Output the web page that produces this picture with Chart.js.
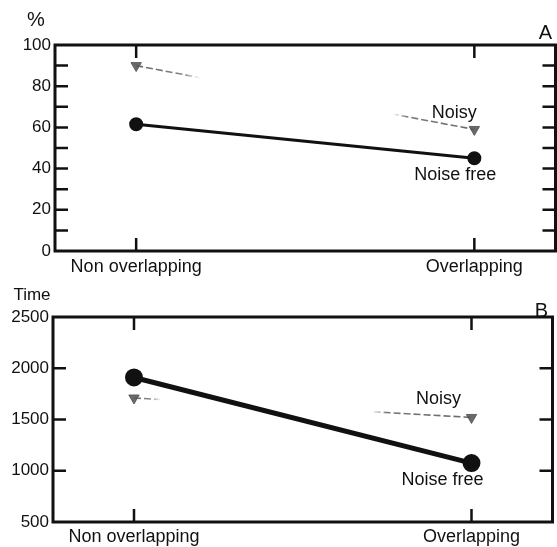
<!DOCTYPE html>
<html>
<head>
<meta charset="utf-8">
<script src="https://cdn.jsdelivr.net/npm/chart.js@4/dist/chart.umd.min.js"></script>
<style>
html, body { margin: 0; padding: 0; background: #fff; overflow: hidden; }
#wrap { position: relative; width: 557px; height: 547px; overflow: hidden; }
.panel { position: absolute; left: 0; width: 564px; }
#boxA { top: 0; height: 280px; }
#boxB { top: 275px; height: 272px; }
</style>
</head>
<body>
<div id="wrap">
  <div class="panel" id="boxA"><canvas id="chartA"></canvas></div>
  <div class="panel" id="boxB"><canvas id="chartB"></canvas></div>
</div>
<script>
// values
var categories = ['Non overlapping', 'Overlapping'];
var accuracyNoiseFree = [61.5, 45];
var accuracyNoisy = [90, 59];
var timeNoiseFree = [1910, 1075];
var timeNoisy = [1710, 1520];

var FONT = "'Liberation Sans', Arial, sans-serif";
var INK = '#111';
var GREY = '90,90,90';

function toPoints(values) {
    return values.map(function (v, i) { return { x: i, y: v }; });
}

// the grey line is faded out in the middle on the scan
function fadeColor(stops) {
    return function (ctx) {
        var chart = ctx.chart;
        if (!chart.chartArea) return 'rgba(' + GREY + ',0.8)';
        var xs = chart.scales.x;
        var g = chart.ctx.createLinearGradient(xs.getPixelForValue(0), 0, xs.getPixelForValue(1), 0);
        stops.forEach(function (s) { g.addColorStop(s[0], 'rgba(' + GREY + ',' + s[1] + ')'); });
        return g;
    };
}

var framePlugin = {
    id: 'frame',
    beforeDatasetsDraw: function (chart, args, opts) {
        var a = chart.chartArea, ctx = chart.ctx;
        var ys = chart.scales.y, xs = chart.scales.x;
        ctx.save();
        // texts behind the frame
        ctx.fillStyle = INK;
        ctx.textAlign = 'center';
        ctx.textBaseline = 'middle';
        (opts.corner || []).forEach(function (t) {
            ctx.font = t.size + 'px ' + FONT;
            var x = t.side === 'right' ? a.right + t.dx : a.left + t.dx;
            ctx.fillText(t.text, x, a.top + t.dy);
        });
        ctx.strokeStyle = INK;
        ctx.lineWidth = 3;
        ctx.strokeRect(a.left, a.top, a.right - a.left, a.bottom - a.top);
        ctx.lineWidth = 2.5;
        ctx.beginPath();
        for (var v = ys.min + opts.minorStep; v < ys.max; v += opts.minorStep) {
            var py = ys.getPixelForValue(v);
            ctx.moveTo(a.left, py); ctx.lineTo(a.left + opts.tickLen, py);
            ctx.moveTo(a.right, py); ctx.lineTo(a.right - opts.tickLen, py);
        }
        categories.forEach(function (c, i) {
            var px = xs.getPixelForValue(i);
            ctx.moveTo(px, a.top); ctx.lineTo(px, a.top + opts.tickLen);
            ctx.moveTo(px, a.bottom); ctx.lineTo(px, a.bottom - opts.tickLen);
        });
        ctx.stroke();
        ctx.restore();
    },
    afterDatasetsDraw: function (chart, args, opts) {
        var ctx = chart.ctx;
        ctx.save();
        ctx.fillStyle = INK;
        ctx.font = '18px ' + FONT;
        ctx.textAlign = 'center';
        ctx.textBaseline = 'middle';
        (opts.notes || []).forEach(function (n) {
            var el = chart.getDatasetMeta(n.dataset).data[n.index];
            ctx.fillText(n.text, el.x + n.dx, el.y + n.dy);
        });
        ctx.restore();
    }
};

function makeChart(id, o) {
    return new Chart(document.getElementById(id), {
        type: 'line',
        data: {
            datasets: [
                {
                    label: 'Noisy',
                    data: toPoints(o.noisy),
                    borderColor: fadeColor(o.fade),
                    borderWidth: 1.6,
                    borderDash: [7, 3],
                    pointStyle: 'triangle',
                    rotation: 180,
                    pointRadius: 6,
                    pointBackgroundColor: 'rgba(' + GREY + ',0.9)',
                    pointBorderColor: 'rgba(' + GREY + ',0.9)',
                    pointBorderWidth: 1
                },
                {
                    label: 'Noise free',
                    data: toPoints(o.noiseFree),
                    borderColor: INK,
                    borderWidth: o.lineWidth,
                    pointRadius: o.dot,
                    pointBackgroundColor: INK,
                    pointBorderColor: INK
                }
            ]
        },
        options: {
            responsive: true,
            maintainAspectRatio: false,
            animation: false,
            layout: { padding: { top: o.top, right: 1, left: 0, bottom: 0 } },
            plugins: {
                legend: { display: false },
                tooltip: { enabled: false },
                frame: {
                    minorStep: o.minorStep,
                    tickLen: 13,
                    corner: o.corner,
                    notes: o.notes
                }
            },
            scales: {
                x: {
                    type: 'linear',
                    min: -0.24,
                    max: 1.24,
                    afterBuildTicks: function (s) {
                        s.ticks = categories.map(function (c, i) { return { value: i }; });
                    },
                    afterFit: function (s) { s.height = o.xHeight; },
                    grid: { display: false, drawTicks: false, tickLength: 0 },
                    border: { display: false },
                    ticks: {
                        padding: o.xPad,
                        maxRotation: 0,
                        autoSkip: false,
                        color: INK,
                        font: { family: FONT, size: 18, lineHeight: 1 },
                        callback: function (v) { return categories[v] || ''; }
                    }
                },
                y: {
                    min: o.min,
                    max: o.max,
                    afterFit: function (s) { s.width = o.yWidth; },
                    grid: { display: false, drawTicks: false, tickLength: 0 },
                    border: { display: false },
                    ticks: {
                        stepSize: o.step,
                        padding: 4,
                        color: INK,
                        font: { family: FONT, size: 17 },
                        callback: o.yLabel
                    }
                }
            }
        },
        plugins: [framePlugin]
    });
}

makeChart('chartA', {
    noisy: accuracyNoisy,
    noiseFree: accuracyNoiseFree,
    fade: [[0, 0.9], [0.14, 0.75], [0.19, 0], [0.76, 0], [0.8, 0.8], [1, 0.9]],
    lineWidth: 3,
    dot: 5.5,
    top: 45,
    min: 0, max: 100, step: 10, minorStep: 10,
    yLabel: function (v) { return v % 20 === 0 ? v : ''; },
    yWidth: 55,
    xHeight: 29,
    xPad: 7,
    corner: [
        { text: '%', size: 20, dx: -19, dy: -25 },
        { text: 'A', size: 20, side: 'right', dx: -10, dy: -12 }
    ],
    notes: [
        { text: 'Noisy', dataset: 0, index: 1, dx: -20, dy: -16 },
        { text: 'Noise free', dataset: 1, index: 1, dx: -19, dy: 17 }
    ]
});

makeChart('chartB', {
    noisy: timeNoisy,
    noiseFree: timeNoiseFree,
    fade: [[0, 0.9], [0.05, 0.7], [0.08, 0], [0.70, 0], [0.75, 0.8], [1, 0.9]],
    lineWidth: 5,
    dot: 6.5,
    top: 42,
    min: 500, max: 2500, step: 500, minorStep: 500,
    yLabel: function (v) { return v; },
    yWidth: 53,
    xHeight: 25,
    xPad: 6,
    corner: [
        { text: 'Time', size: 17, dx: -21, dy: -22 },
        { text: 'B', size: 20, side: 'right', dx: -11, dy: -6 }
    ],
    notes: [
        { text: 'Noisy', dataset: 0, index: 1, dx: -33, dy: -18 },
        { text: 'Noise free', dataset: 1, index: 1, dx: -29, dy: 17 }
    ]
});
</script>
</body>
</html>
